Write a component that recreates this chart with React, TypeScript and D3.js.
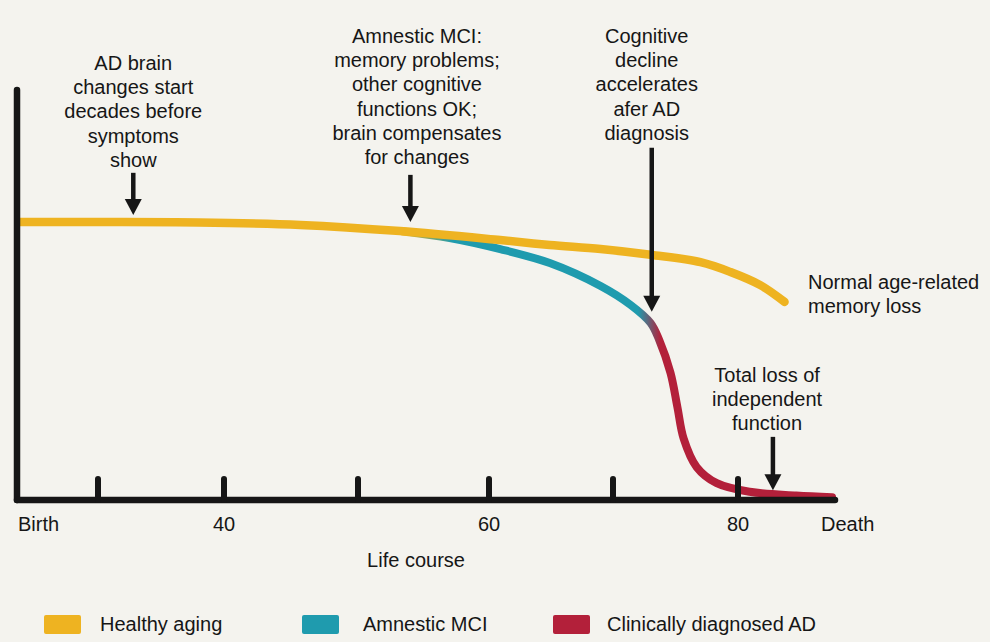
import React from 'react';
import * as d3 from 'd3';

// ---------- data ----------
// life-course positions (age) and their spots on the axis
const AXIS_AGES = [0, 30, 40, 50, 60, 70, 80, 90];
const TICK_AGES = [30, 40, 50, 60, 70, 80];
const TICK_LABELS = [
  { age: 40, text: '40' },
  { age: 60, text: '60' },
  { age: 80, text: '80' },
];
const END_LABELS = { start: 'Birth', end: 'Death' };
const AXIS_TITLE = 'Life course';

// cognitive function (0 = none, 100 = top of axis)
const healthyAging: [number, number][] = [
  [0.8, 67.8], [30, 67.8], [38, 67.7], [45.7, 67.1], [53.2, 65.6], [60.9, 63.4],
  [64.9, 62.2], [69, 61.2], [73, 59.8], [77, 58.0], [79.4, 55.6], [82.3, 52.4], [84.8, 48.3],
];
const amnesticMCI: [number, number][] = [
  [53.4, 65.5], [57, 63.9], [60.9, 61.2], [64.9, 57.8], [69, 52.2], [71.4, 47.6], [73, 43.2],
];
const clinicalAD: [number, number][] = [
  [73, 43.2], [73.7, 39.0], [74.6, 31.0], [75.15, 22.7], [75.65, 15.0], [76.7, 8.0],
  [78.3, 4.1], [81.2, 2.0], [86, 1.1], [89.7, 0.7],
];

const SERIES = [
  { name: 'Healthy aging', color: '#EEB321' },
  { name: 'Amnestic MCI', color: '#1F9BAE' },
  { name: 'Clinically diagnosed AD', color: '#B3203A' },
];

const annotations = [
  { lines: ['AD brain', 'changes start', 'decades before', 'symptoms', 'show'], textAge: 32.8, arrowAge: 32.8, from: 79.8, to: 69.5, y0: 70 },
  { lines: ['Amnestic MCI:', 'memory problems;', 'other cognitive', 'functions OK;', 'brain compensates', 'for changes'], textAge: 54.5, arrowAge: 54, from: 79.3, to: 67.8, y0: 43 },
  { lines: ['Cognitive', 'decline', 'accelerates', 'afer AD', 'diagnosis'], textAge: 72.7, arrowAge: 73.1, from: 85.9, to: 45.9, y0: 43 },
  { lines: ['Total loss of', 'independent', 'function'], textAge: 83.0, arrowAge: 83.6, from: 15.4, to: 2.4, y0: 381.5 },
];
const normalLabel = ['Normal age-related', 'memory loss'];

// ---------- layout ----------
const W = 990;
const H = 642;
const BG = '#F4F3EE';
const INK = '#161616';
const FONT = '"Liberation Sans", Arial, Helvetica, sans-serif';

export default function App() {
  const x = d3.scaleLinear().domain(AXIS_AGES).range([17, 98, 224, 358, 489, 613, 738, 835]);
  const y = d3.scaleLinear().domain([0, 100]).range([500, 90]);

  const line = d3
    .line<[number, number]>()
    .x((d) => x(d[0]))
    .y((d) => y(d[1]))
    .curve(d3.curveCatmullRom.alpha(0.5));

  const decline = [...amnesticMCI, ...clinicalAD.slice(1)];
  const gx1 = x(amnesticMCI[0][0]);
  const gx2 = x(clinicalAD[clinicalAD.length - 1][0]);
  const off = (age: number) => (x(age) - gx1) / (gx2 - gx1);

  const axisY = y(0);
  const head = 16;

  return (
    <svg
      width={W}
      height={H}
      style={{ position: 'absolute', left: 0, top: 0, display: 'block' }}
      fontFamily={FONT}
    >
      <defs>
        <linearGradient id="declineGrad" gradientUnits="userSpaceOnUse" x1={gx1} x2={gx2} y1={0} y2={0}>
          <stop offset={0} stopColor={SERIES[0].color} />
          <stop offset={off(57.2)} stopColor={SERIES[1].color} />
          <stop offset={off(72.0)} stopColor={SERIES[1].color} />
          <stop offset={off(73.8)} stopColor={SERIES[2].color} />
          <stop offset={1} stopColor={SERIES[2].color} />
        </linearGradient>
      </defs>
      <rect x={0} y={0} width={W} height={H} fill={BG} />

      {/* curves */}
      <path d={line(decline) ?? ''} fill="none" stroke="url(#declineGrad)" strokeWidth={8} strokeLinecap="round" strokeLinejoin="round" />
      <path d={line(healthyAging) ?? ''} fill="none" stroke={SERIES[0].color} strokeWidth={8.5} strokeLinecap="round" strokeLinejoin="round" />

      {/* axes */}
      <line x1={x(0)} x2={x(0)} y1={y(100)} y2={axisY} stroke={INK} strokeWidth={6.5} strokeLinecap="round" />
      <line x1={x(0)} x2={x(90)} y1={axisY} y2={axisY} stroke={INK} strokeWidth={6.5} strokeLinecap="round" />
      {TICK_AGES.map((a) => (
        <line key={a} x1={x(a)} x2={x(a)} y1={axisY} y2={axisY - 21} stroke={INK} strokeWidth={6} strokeLinecap="round" />
      ))}

      <g fontSize={20} fill={INK}>
        <text x={x(0) + 1} y={531}>{END_LABELS.start}</text>
        {TICK_LABELS.map((t) => (
          <text key={t.text} x={x(t.age)} y={531} textAnchor="middle">{t.text}</text>
        ))}
        <text x={x(90) - 14} y={531}>{END_LABELS.end}</text>
        <text x={416} y={567} textAnchor="middle">{AXIS_TITLE}</text>

        {annotations.map((a, i) => (
          <g key={i}>
            <text textAnchor="middle">
              {a.lines.map((l, j) => (
                <tspan key={j} x={x(a.textAge)} y={a.y0 + j * 24.2}>{l}</tspan>
              ))}
            </text>
            <line x1={x(a.arrowAge)} x2={x(a.arrowAge)} y1={y(a.from)} y2={y(a.to) - head + 2} stroke={INK} strokeWidth={4.5} />
            <path
              d={`M${x(a.arrowAge) - 8.5},${y(a.to) - head} L${x(a.arrowAge) + 8.5},${y(a.to) - head} L${x(a.arrowAge)},${y(a.to)} Z`}
              fill={INK}
            />
          </g>
        ))}

        <text>
          {normalLabel.map((l, j) => (
            <tspan key={j} x={808} y={289 + j * 24.2}>{l}</tspan>
          ))}
        </text>
      </g>

      {/* legend */}
      <g fontSize={20} fill={INK}>
        {SERIES.map((s, i) => {
          const sx = [44, 302, 553][i];
          const tx = [100, 363, 607][i];
          return (
            <g key={s.name}>
              <rect x={sx} y={615} width={37} height={19} rx={2} fill={s.color} />
              <text x={tx} y={631}>{s.name}</text>
            </g>
          );
        })}
      </g>
    </svg>
  );
}
